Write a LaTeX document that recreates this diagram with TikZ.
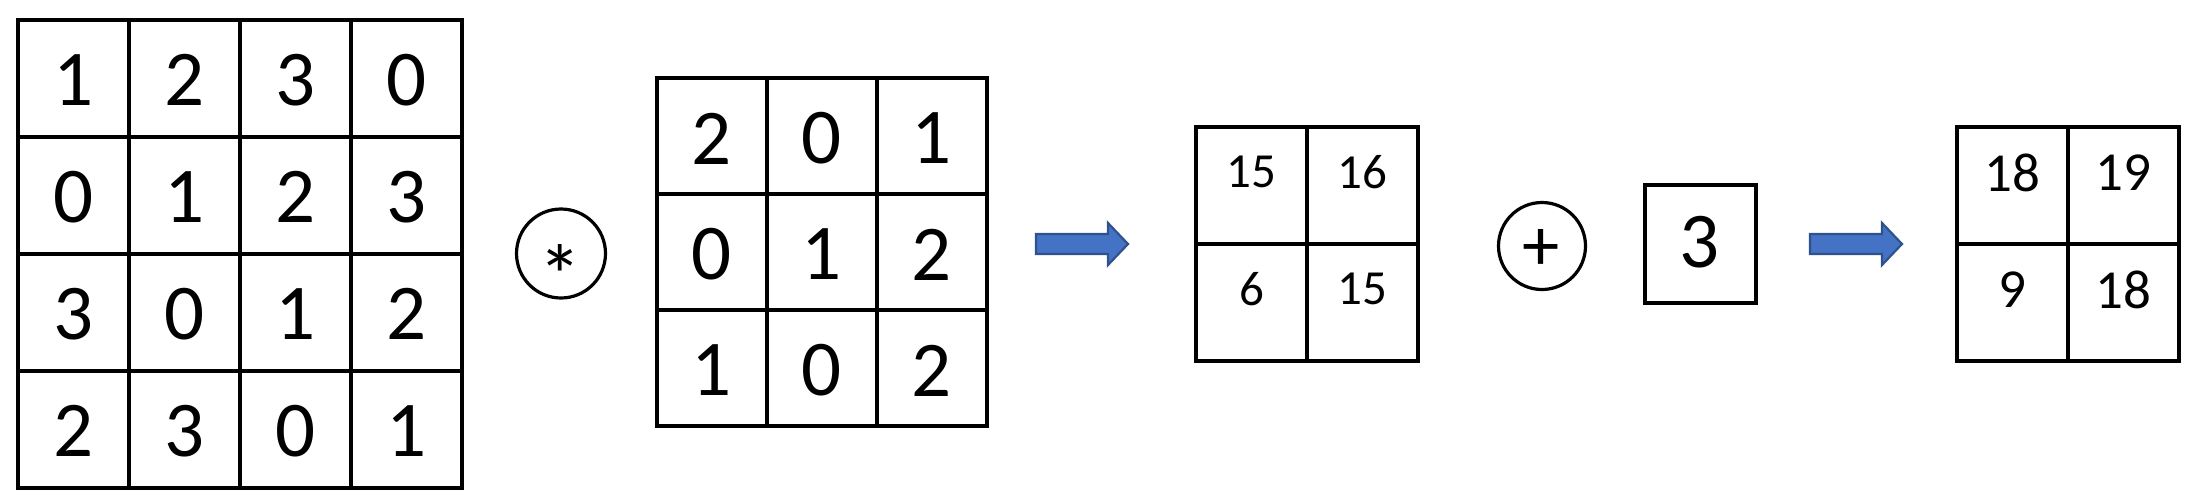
\documentclass[tikz,border=0pt]{standalone}
\usepackage{fontspec}
\setmainfont{Carlito}
\usepackage{graphicx}
\definecolor{arrowfill}{HTML}{4472C4}
\definecolor{arrowline}{HTML}{2F528F}
\tikzset{
  cell/.style={draw=black, line width=4pt, inner sep=0pt, anchor=center},
  bigdig/.style={inner sep=0pt, anchor=center, font=\fontsize{79}{79}\selectfont},
  middig/.style={inner sep=0pt, anchor=center, font=\fontsize{49}{49}\selectfont},
  resdig/.style={inner sep=0pt, anchor=center, font=\fontsize{55}{55}\selectfont},
  opcircle/.style={draw=black, line width=3.2pt, circle, inner sep=0pt},
  blockarrow/.style={fill=arrowfill, draw=arrowline, line width=2.2pt, line join=miter}
}
\begin{document}
\begin{tikzpicture}[x=1pt,y=-1pt]
\useasboundingbox (0,0) rectangle (2197,501);
% ---------- 4x4 input grid ----------
\def\gx{18}\def\gy{20}\def\cw{111}\def\ch{117}
\foreach \r/\row in {0/{1,2,3,0},1/{0,1,2,3},2/{3,0,1,2},3/{2,3,0,1}}{
  \foreach \v [count=\c from 0] in \row {
    \node[cell, minimum width=\cw pt, minimum height=\ch pt] (in-\r-\c)
      at ({\gx+\cw*(\c+0.5)},{\gy+\ch*(\r+0.5)}) {};
    \node[bigdig] (ind-\r-\c) at ({\gx+\cw*(\c+0.5)},{\gy+\ch*(\r+0.5)+1.5}) {\v};
  }
}
% ---------- convolution operator ----------
\node[opcircle, minimum size=89pt] (conv) at (561,253.5) {};
\node[inner sep=0pt, anchor=north] (star) at (560,244) {\resizebox{!}{62pt}{*}};
% ---------- 3x3 kernel ----------
\def\kx{657}\def\ky{78}\def\kw{110}\def\kh{116}
\foreach \r/\row in {0/{2,0,1},1/{0,1,2},2/{1,0,2}}{
  \foreach \v [count=\c from 0] in \row {
    \node[cell, minimum width=\kw pt, minimum height=\kh pt] (k-\r-\c)
      at ({\kx+\kw*(\c+0.5)},{\ky+\kh*(\r+0.5)}) {};
    \node[bigdig] (kd-\r-\c) at ({\kx+\kw*(\c+0.5)},{\ky+\kh*(\r+0.5)+2.5}) {\v};
  }
}
% ---------- arrow 1 ----------
\draw[blockarrow] (1036,234) -- (1108,234) -- (1108,223) -- (1128,244)
  -- (1108,265) -- (1108,254) -- (1036,254) -- cycle;
% ---------- 2x2 convolution result ----------
\def\ax{1196}\def\ay{127}\def\aw{111}\def\ah{117}
\foreach \r/\row in {0/{15,16},1/{6,15}}{
  \foreach \v [count=\c from 0] in \row {
    \node[cell, minimum width=\aw pt, minimum height=\ah pt] (a-\r-\c)
      at ({\ax+\aw*(\c+0.5)},{\ay+\ah*(\r+0.5)}) {};
    \node[middig] (ad-\r-\c) at ({\ax+\aw*(\c+0.5)},{\ay+\ah*(\r+0.5)-13.5}) {\v};
  }
}
% ---------- plus operator and bias ----------
\node[opcircle, minimum size=87pt] (plus) at (1542,246) {};
\node[inner sep=0pt, anchor=north] (plussign) at (1541,229) {\resizebox{!}{41pt}{+}};
\node[cell, minimum width=111pt, minimum height=118pt] (bias) at (1700,244) {};
\node[bigdig] (biasd) at (1699.5,242) {3};
% ---------- arrow 2 ----------
\draw[blockarrow] (1810,234) -- (1882,234) -- (1882,223) -- (1902,244)
  -- (1882,265) -- (1882,254) -- (1810,254) -- cycle;
% ---------- 2x2 final result ----------
\def\bx{1957}\def\by{127}\def\bw{111}\def\bh{117}
\foreach \r/\row in {0/{18,19},1/{9,18}}{
  \foreach \v [count=\c from 0] in \row {
    \node[cell, minimum width=\bw pt, minimum height=\bh pt] (b-\r-\c)
      at ({\bx+\bw*(\c+0.5)},{\by+\bh*(\r+0.5)}) {};
    \node[resdig] (bd-\r-\c) at ({\bx+\bw*(\c+0.5)},{\by+\bh*(\r+0.5)-12.5}) {\v};
  }
}
\end{tikzpicture}
\end{document}
